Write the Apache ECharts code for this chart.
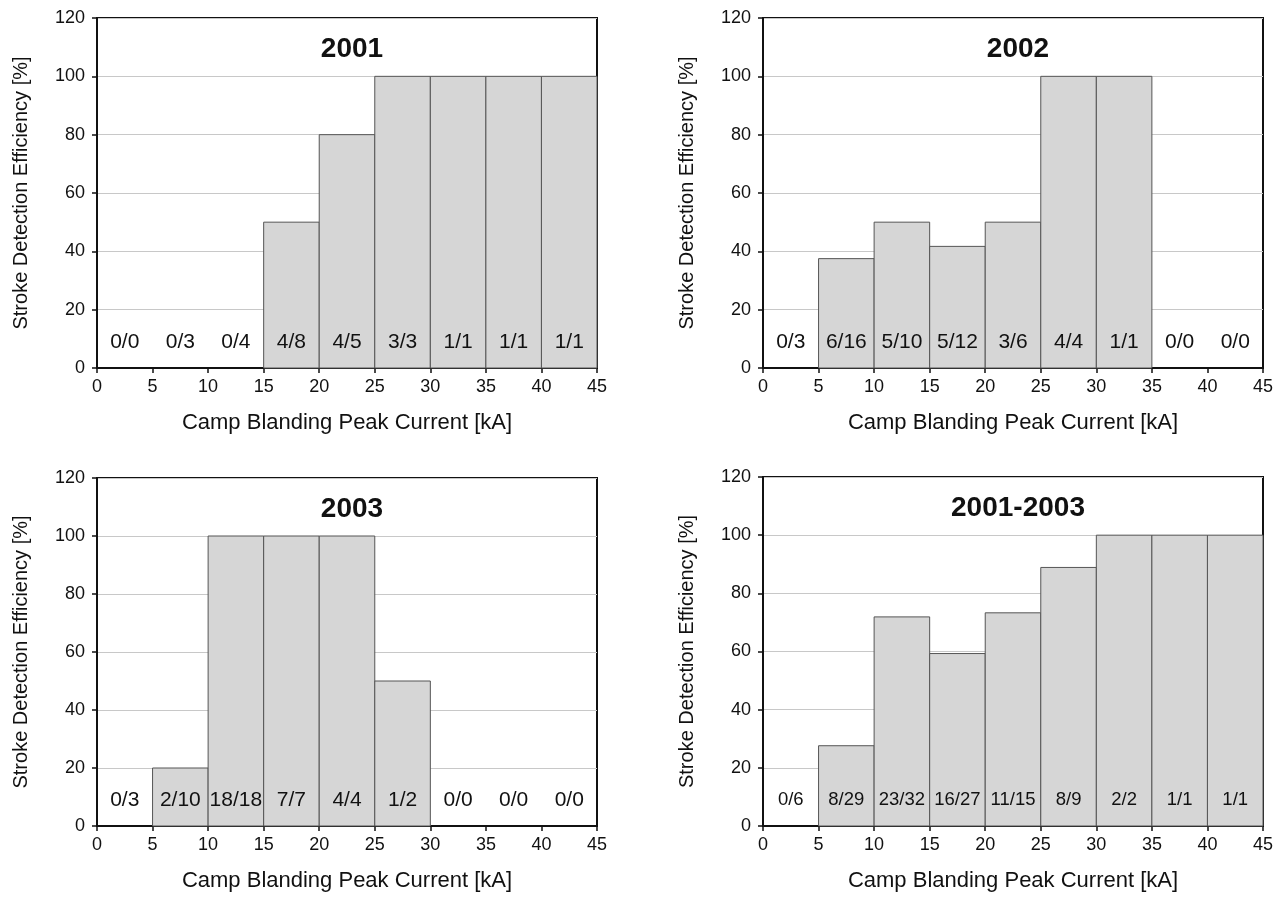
<!DOCTYPE html>
<html>
<head>
<meta charset="utf-8">
<script src="https://cdn.jsdelivr.net/npm/echarts@6/dist/echarts.min.js"></script>
<style>
html, body { margin: 0; padding: 0; background: #fff; }
#container { width: 1282px; height: 907px; }
</style>
</head>
<body>
<div id="container"></div>
<script>
// bins of peak current, 5 kA wide
var binStart = [0, 5, 10, 15, 20, 25, 30, 35, 40];
var binEnd = [5, 10, 15, 20, 25, 30, 35, 40, 45];
var xTicks = [0, 5, 10, 15, 20, 25, 30, 35, 40, 45];

var titles = ['2001', '2002', '2003', '2001-2003'];

// detection efficiency [%]
var eff2001 = [0, 0, 0, 50, 80, 100, 100, 100, 100];
var eff2002 = [0, 37.5, 50, 41.7, 50, 100, 100, 0, 0];
var eff2003 = [0, 20, 100, 100, 100, 50, 0, 0, 0];
var effAll = [0, 27.6, 71.9, 59.3, 73.3, 88.9, 100, 100, 100];

// detected/total labels
var lab2001 = ['0/0', '0/3', '0/4', '4/8', '4/5', '3/3', '1/1', '1/1', '1/1'];
var lab2002 = ['0/3', '6/16', '5/10', '5/12', '3/6', '4/4', '1/1', '0/0', '0/0'];
var lab2003 = ['0/3', '2/10', '18/18', '7/7', '4/4', '1/2', '0/0', '0/0', '0/0'];
var labAll = ['0/6', '8/29', '23/32', '16/27', '11/15', '8/9', '2/2', '1/1', '1/1'];

var effList = [eff2001, eff2002, eff2003, effAll];
var labList = [lab2001, lab2002, lab2003, labAll];

var FONT = '"Liberation Sans", Arial, sans-serif';

var grids = [
    {left: 97, top: 18, width: 500, height: 350},
    {left: 763, top: 18, width: 500, height: 350},
    {left: 97, top: 478, width: 500, height: 348},
    {left: 763, top: 477, width: 500, height: 349}
];

function makeRender(labels, fs) {
    return function (params, api) {
        var x0 = api.value(0);
        var x1 = api.value(1);
        var v = api.value(2);
        var children = [];
        if (v > 0) {
            var p0 = api.coord([x0, v]);
            var p1 = api.coord([x1, 0]);
            children.push({
                type: 'rect',
                shape: {x: p0[0], y: p0[1], width: p1[0] - p0[0], height: p1[1] - p0[1]},
                style: {fill: '#d6d6d6', stroke: '#555555', lineWidth: 1}
            });
        }
        // count label sits low in every bin
        var pt = api.coord([(x0 + x1) / 2, 9]);
        children.push({
            type: 'text',
            x: pt[0],
            y: pt[1],
            style: {
                text: labels[params.dataIndex],
                fill: '#111',
                font: fs + 'px ' + FONT,
                align: 'center',
                verticalAlign: 'middle'
            }
        });
        return {type: 'group', children: children};
    };
}

var dom = document.getElementById("container");
var myChart = echarts.init(dom);
var option = {
    backgroundColor: '#fff',
    animation: false,
    title: [],
    grid: [],
    xAxis: [],
    yAxis: [],
    series: []
};

for (var k = 0; k < 4; k++) {
    var g = grids[k];
    option.grid.push({
        left: g.left, top: g.top, width: g.width, height: g.height,
        show: true, borderColor: '#111', borderWidth: 2, backgroundColor: '#fff'
    });
    option.title.push({
        text: titles[k],
        left: g.left + g.width / 2,
        top: g.top + 12,
        textAlign: 'center',
        textStyle: {fontFamily: FONT, fontSize: 28, fontWeight: 'bold', color: '#111'}
    });
    option.xAxis.push({
        type: 'value',
        gridIndex: k,
        min: xTicks[0],
        max: xTicks[xTicks.length - 1],
        interval: 5,
        name: 'Camp Blanding Peak Current [kA]',
        nameLocation: 'middle',
        nameGap: 44,
        nameTextStyle: {fontFamily: FONT, fontSize: 22, color: '#111'},
        axisLine: {lineStyle: {color: '#111', width: 2}},
        axisTick: {show: true, length: 5, lineStyle: {color: '#111', width: 1.5}},
        axisLabel: {fontFamily: FONT, fontSize: 18, color: '#111', margin: 10},
        splitLine: {show: false}
    });
    option.yAxis.push({
        type: 'value',
        gridIndex: k,
        min: 0,
        max: 120,
        interval: 20,
        name: 'Stroke Detection Efficiency [%]',
        nameLocation: 'middle',
        nameGap: 66,
        nameTextStyle: {fontFamily: FONT, fontSize: 20, color: '#111'},
        axisLine: {show: true, lineStyle: {color: '#111', width: 2}},
        axisTick: {show: true, length: 5, lineStyle: {color: '#111', width: 1.5}},
        axisLabel: {fontFamily: FONT, fontSize: 18, color: '#111', margin: 12},
        splitLine: {show: true, lineStyle: {color: '#c8c8c8', width: 1}}
    });
    var eff = effList[k];
    var data = [];
    for (var j = 0; j < binStart.length; j++) {
        data.push([binStart[j], binEnd[j], eff[j]]);
    }
    option.series.push({
        type: 'custom',
        xAxisIndex: k,
        yAxisIndex: k,
        renderItem: makeRender(labList[k], k == 3 ? 18.5 : 21),
        encode: {x: [0, 1], y: 2},
        data: data
    });
}

if (option && typeof option === "object") {
    myChart.setOption(option, true);
}
</script>
</body>
</html>
